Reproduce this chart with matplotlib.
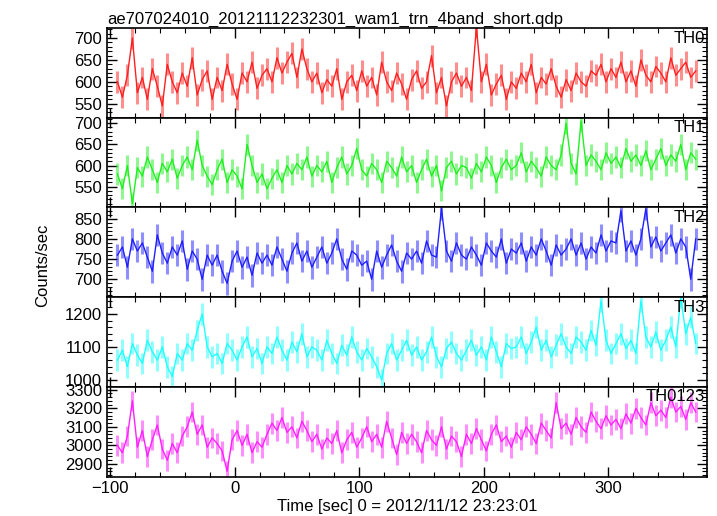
import matplotlib
matplotlib.use('Agg')
import matplotlib.pyplot as plt
import numpy as np
from matplotlib.ticker import AutoMinorLocator, MultipleLocator

plt.rcParams['font.family'] = ['Liberation Sans', 'DejaVu Sans']

title = 'ae707024010_20121112232301_wam1_trn_4band_short.qdp'
xlabel = 'Time [sec] 0 = 2012/11/12 23:23:01'
ylabel = 'Counts/sec'

# bin start -94 s, 4 s bins (117 bins)
t = np.arange(-94, 371, 4)

th0 = [600, 565, 615, 700, 575, 610, 560, 630, 590, 545,
       640, 600, 575, 620, 590, 655, 570, 605, 625, 560,
       610, 580, 640, 595, 560, 620, 600, 645, 585, 615,
       630, 600, 655, 620, 645, 665, 610, 675, 630, 600,
       620, 575, 605, 590, 630, 560, 600, 615, 580, 625,
       590, 610, 570, 645, 600, 580, 620, 595, 560, 605,
       625, 585, 600, 660, 575, 610, 545, 600, 620, 590,
       610, 580, 725, 600, 640, 570, 595, 615, 560, 600,
       585, 620, 600, 640, 575, 610, 595, 630, 590, 565,
       605, 580, 620, 600, 590, 625, 615, 640, 600, 630,
       610, 645, 600, 625, 590, 650, 615, 600, 635, 620,
       600, 655, 615, 630, 645, 610, 625]

th1 = [580, 545, 600, 510, 595, 575, 620, 590, 560, 605,
       585, 615, 570, 600, 620, 590, 660, 600, 575, 555,
       590, 615, 560, 590, 575, 545, 650, 600, 560, 580,
       545, 570, 590, 560, 600, 580, 605, 590, 620, 575,
       600, 585, 610, 560, 595, 620, 580, 600, 640, 590,
       575, 605, 590, 560, 610, 595, 575, 620, 585, 600,
       560, 590, 615, 575, 600, 540, 595, 610, 580, 600,
       595, 570, 605, 585, 620, 600, 560, 595, 615, 590,
       600, 630, 585, 610, 595, 575, 620, 600, 590, 625,
       700, 605, 580, 705, 600, 625, 610, 590, 630, 605,
       620, 595, 640, 610, 625, 600, 635, 590, 615, 640,
       600, 625, 610, 650, 590, 630, 615]

th2 = [760, 780, 730, 800, 770, 790, 755, 720, 810, 765,
       740, 780, 760, 795, 725, 770, 750, 700, 760, 735,
       760, 720, 690, 745, 770, 730, 755, 710, 765, 740,
       760, 735, 780, 750, 720, 765, 790, 745, 770, 730,
       755, 780, 740, 765, 800, 750, 725, 770, 760, 735,
       745, 700, 770, 730, 760, 785, 745, 720, 765, 750,
       770, 740, 795, 760, 755, 875, 770, 745, 790, 760,
       750, 780, 760, 735, 790, 770, 755, 800, 740, 775,
       765, 790, 745, 780, 760, 800, 770, 735, 785, 760,
       775, 800, 760, 790, 750, 780, 765, 810, 770, 795,
       790, 870, 770, 795, 760, 800, 875, 780, 805, 770,
       790, 810, 765, 800, 780, 700, 800]

th3 = [1060, 1090, 1040, 1110, 1075, 1050, 1120, 1085, 1060, 1100,
       1040, 1010, 1080, 1060, 1110, 1090, 1150, 1200, 1100, 1070,
       1080, 1050, 1110, 1090, 1060, 1100, 1130, 1070, 1095, 1050,
       1100, 1080, 1130, 1090, 1060, 1115, 1085, 1140, 1070, 1100,
       1090, 1060, 1120, 1080, 1050, 1105, 1075, 1130, 1085, 1060,
       1095, 1070, 1040, 1000, 1080, 1110, 1060, 1090, 1120, 1075,
       1100, 1060, 1085, 1130, 1070, 1040, 1095, 1115, 1080, 1060,
       1090, 1120, 1075, 1100, 1060, 1130, 1085, 1040, 1110, 1095,
       1100, 1130, 1080, 1115, 1160, 1090, 1120, 1070, 1105, 1140,
       1100, 1080, 1130, 1115, 1090, 1150, 1105, 1240, 1120, 1080,
       1110, 1140, 1095, 1120, 1080, 1240, 1130, 1100, 1145, 1090,
       1120, 1160, 1100, 1250, 1140, 1190, 1110]

th0123 = [3000, 2960, 3050, 3240, 2990, 3080, 2940, 3030, 3110, 2980,
          2920, 3010, 2960, 3050, 3100, 3180, 3060, 3110, 2990, 3040,
          3010, 2970, 2860, 3030, 3080, 3000, 3060, 2960, 3020, 2990,
          3060, 3120, 3080, 3150, 3070, 3100, 3040, 3130, 3080, 3020,
          3060, 2980, 3040, 3010, 3080, 2960, 3030, 3070, 2990, 3040,
          3100, 3020, 3060, 2990, 3130, 3040, 2950, 3070, 3010, 3060,
          3020, 2960, 3080, 3030, 3000, 3100, 2980, 3050, 3020, 2940,
          3060, 3010, 3090, 3030, 2970, 3060, 3110, 3020, 3050, 2990,
          3070, 3030, 3100, 3060, 3010, 3120, 3080, 3040, 3230, 3090,
          3120, 3060, 3150, 3100, 3070, 3180, 3130, 3090, 3160, 3110,
          3140, 3090, 3170, 3120, 3200, 3150, 3110, 3230, 3160, 3190,
          3150, 3260, 3180, 3210, 3140, 3230, 3180]

series = [th0, th1, th2, th3, th0123]
names = ['TH0', 'TH1', 'TH2', 'TH3', 'TH0123']
errs = [25, 25, 28, 33, 56]
colors = ['#ff2020', '#20f020', '#2020ff', '#20ffff', '#ff20ff']
ylims = [(518, 723), (501, 713), (656, 878), (979, 1251), (2832, 3316)]
ymajor = [50, 50, 50, 100, 100]

fig = plt.figure(figsize=(7.17, 5.16), dpi=100)
left, width = 0.149, 0.837
top, h = 1 - 28 / 516, 89.7 / 516

axes = []
for i, (y, name, e, c, yl, ym) in enumerate(zip(series, names, errs, colors, ylims, ymajor)):
    ax = fig.add_axes([left, top - (i + 1) * h, width, h])
    y = np.array(y, dtype=float)
    ax.vlines(t, y - e, y + e, color=c, alpha=0.5, lw=2.2)
    ax.plot(t, y, color=c, lw=1.0)
    ax.set_xlim(-102.5, 379)
    ax.set_ylim(*yl)
    ax.xaxis.set_major_locator(MultipleLocator(100))
    ax.xaxis.set_minor_locator(MultipleLocator(20))
    ax.yaxis.set_major_locator(MultipleLocator(ym))
    ax.yaxis.set_minor_locator(AutoMinorLocator(5))
    ax.tick_params(which='both', direction='in', top=True, right=True, labelsize=12)
    ax.tick_params(which='major', length=7, width=1)
    ax.tick_params(which='minor', length=3.5, width=0.8)
    for s in ax.spines.values():
        s.set_linewidth(1.2)
    ax.text(0.997, 0.97, name, transform=ax.transAxes, ha='right', va='top', fontsize=12)
    if i < 4:
        ax.tick_params(labelbottom=False)
    axes.append(ax)

axes[0].set_title(title, loc='left', fontsize=12, pad=3)
axes[-1].set_xlabel(xlabel, fontsize=12, labelpad=2)
fig.text(0.06, 0.485, ylabel, rotation=90, ha='center', va='center', fontsize=12)

fig.savefig('out.png', dpi=100)
